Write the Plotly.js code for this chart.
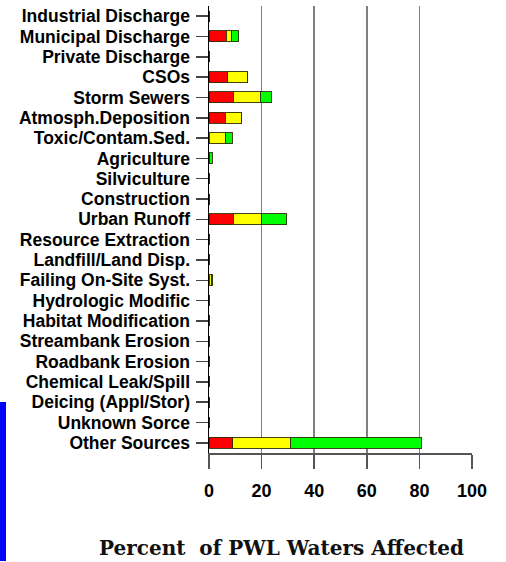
<!DOCTYPE html>
<html>
<head>
<meta charset="utf-8">
<script src="https://cdn.plot.ly/plotly-3.0.1.min.js"></script>
<style>html,body{margin:0;padding:0;background:#fff;}#chart{width:506px;height:562px;}</style>
</head>
<body>
<div id="chart"></div>
<script>
var categories = ["Industrial Discharge","Municipal Discharge","Private Discharge","CSOs","Storm Sewers","Atmosph.Deposition","Toxic/Contam.Sed.","Agriculture","Silviculture","Construction","Urban Runoff","Resource Extraction","Landfill/Land Disp.","Failing On-Site Syst.","Hydrologic Modific","Habitat Modification","Streambank Erosion","Roadbank Erosion","Chemical Leak/Spill","Deicing (Appl/Stor)","Unknown Sorce","Other Sources"];
var redValues    = [0, 6.6, 0, 7.1, 9.3, 6.2, 0,   0,   0, 0, 9.3,  0, 0, 0,   0, 0, 0, 0, 0, 0, 0, 9.1];
var yellowValues = [0, 2.1, 0, 7.7, 10.2, 6.2, 6.3, 0,  0, 0, 10.8, 0, 0, 1.0, 0, 0, 0, 0, 0, 0, 0, 22.0];
var greenValues  = [0, 2.7, 0, 0,   4.2, 0,   2.6, 1.3, 0, 0, 9.4,  0, 0, 0.5, 0, 0, 0, 0, 0, 0, 0, 49.6];
var xTicks = [0, 20, 40, 60, 80, 100];
var xTitle = "Percent&nbsp;&nbsp;of PWL Waters Affected";

var outline = {color: "rgba(45,45,10,0.9)", width: 1};
function series(vals, color, name) {
  return {type: "bar", orientation: "h", y: categories, x: vals, name: name,
          marker: {color: color, line: outline}, hoverinfo: "x+y"};
}
var data = [
  series(redValues, "#ff0000", "red"),
  series(yellowValues, "#ffff00", "yellow"),
  series(greenValues, "#00ff00", "green")
];

var W = 506, H = 562, L = 209, R = 34, T = 6, B = 109;
var pw = W - L - R, ph = H - T - B;
function px2x(p) { return (p - L) / pw; }
function py2y(p) { return (H - B - p) / ph; }

var layout = {
  width: W, height: H,
  margin: {l: L, r: R, t: T, b: B, pad: 0},
  paper_bgcolor: "#fff", plot_bgcolor: "#fff",
  showlegend: false,
  barmode: "stack",
  bargap: 0.46,
  font: {family: "Liberation Sans, Arial, sans-serif", color: "#000"},
  xaxis: {
    range: [0, 100], tickmode: "array", tickvals: xTicks, ticktext: xTicks.map(String),
    showgrid: true, gridcolor: "#808080", gridwidth: 1.5,
    zeroline: false, showline: true, linecolor: "#555", linewidth: 2,
    ticks: "outside", ticklen: 14, tickwidth: 1.5, tickcolor: "#555",
    tickfont: {family: "Liberation Sans, Arial, sans-serif", size: 18, weight: "bold", color: "#000"},
    ticklabelstandoff: 6,
    fixedrange: true
  },
  yaxis: {
    type: "category", categoryorder: "array", categoryarray: categories,
    tickmode: "array", tickvals: categories, ticktext: categories,
    autorange: "reversed",
    showgrid: false, zeroline: false, showline: true, linecolor: "#000", linewidth: 1.5,
    ticks: "outside", ticklen: 12, tickwidth: 1.5, tickcolor: "#444",
    tickfont: {family: "Liberation Sans, Arial, sans-serif", size: 17.5, weight: "bold", color: "#000"},
    ticklabelstandoff: 2,
    fixedrange: true
  },
  annotations: [{
    text: "<b>" + xTitle + "</b>", xref: "paper", yref: "paper",
    x: px2x(281), y: py2y(548), xanchor: "center", yanchor: "middle", showarrow: false,
    font: {family: "DejaVu Serif, Liberation Serif, serif", size: 20, color: "#111"}
  }],
  shapes: [{
    type: "rect", xref: "paper", yref: "paper",
    x0: px2x(0), x1: px2x(6), y0: py2y(402), y1: py2y(561),
    fillcolor: "#0000ff", line: {width: 0}
  }]
};

Plotly.newPlot("chart", data, layout, {displayModeBar: false, staticPlot: true});
</script>
</body>
</html>
